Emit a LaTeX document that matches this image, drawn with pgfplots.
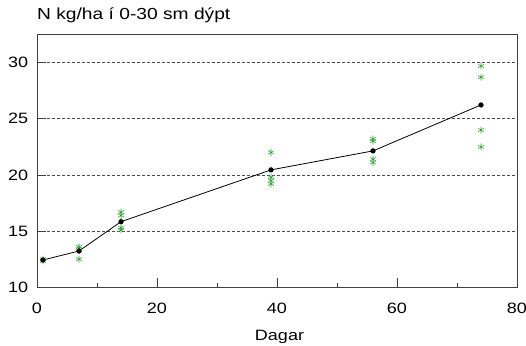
\documentclass[border=0pt]{standalone}
\usepackage{fontspec}
\setmainfont{Liberation Sans}[FakeStretch=1.2]
\usepackage{pgfplots}
\pgfplotsset{compat=1.18}
\definecolor{stargreen}{RGB}{50,165,50}
\begin{document}
\fontsize{15pt}{18pt}\selectfont
\begin{tikzpicture}
\begin{axis}[
  scale only axis, width=480pt, height=252.8pt,
  xmin=0, xmax=80, ymin=10, ymax=32.5,
  xtick={0,20,40,60,80}, minor xtick={10,30,50,70},
  ytick={10,15,20,25,30},
  tick pos=left, tick align=inside,
  major tick length=9pt, minor tick length=4.5pt,
  tick style={black!75, line width=0.8pt},
  axis line style={black!75, line width=0.9pt},
  ymajorgrids, grid style={dash pattern=on 3pt off 2pt, black!70, line width=0.7pt},
  /pgf/number format/assume math mode=true,
  xticklabel style={yshift=-10.4pt},
  yticklabel style={xshift=-3.7pt},
  xlabel={Dagar},
  xlabel style={at={(axis description cs:0.5,0)}, anchor=base, inner sep=0pt, yshift=-52.7pt, xshift=2.5pt},
  title={N kg/ha í 0-30 sm dýpt},
  title style={at={(axis description cs:0,1)}, anchor=base west, inner sep=0pt, yshift=8.5pt, font=\fontsize{16pt}{19pt}\selectfont},
]
\addplot[only marks, mark=asterisk, mark size=3.5pt, stargreen, mark options={line width=0.55pt}] coordinates {
  (1,12.35) (1,12.5)
  (7,13.6) (7,13.45) (7,13.3) (7,12.5)
  (14,16.7) (14,16.4) (14,15.3) (14,15.1)
  (39,22.0) (39,19.8) (39,19.5) (39,19.2)
  (56,23.2) (56,23.0) (56,21.4) (56,21.1)
  (74,29.7) (74,28.7) (74,24.0) (74,22.5)
};
\addplot[black, line width=0.8pt, mark=*, mark size=2.2pt] coordinates {
  (1,12.43) (7,13.23) (14,15.84) (39,20.45) (56,22.14) (74,26.23)
};
\end{axis}
\pgfresetboundingbox
\path[use as bounding box] ([shift={(-37pt,-57.7pt)}]current axis.south west) rectangle ++(526pt,345pt);
\end{tikzpicture}
\end{document}
